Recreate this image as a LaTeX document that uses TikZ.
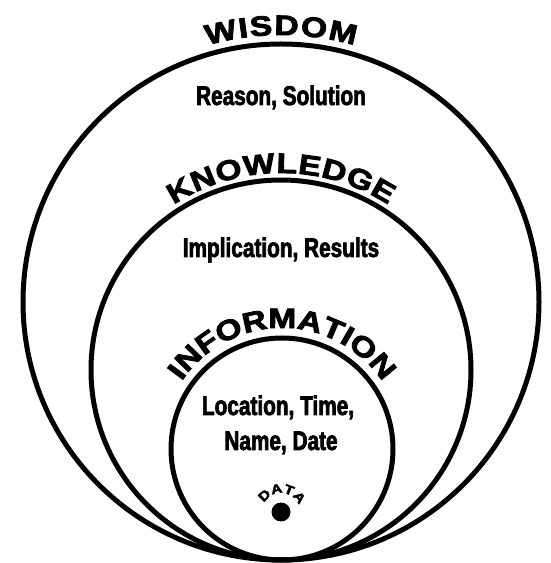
\documentclass[tikz,border=0pt]{standalone}
\usepackage{fontspec}
\usetikzlibrary{decorations.text}
\newfontfamily\ringfamily{Liberation Sans}[FakeStretch=1.2, FakeBold=3]
\newfontfamily\bodyfamily{Liberation Sans}[FakeStretch=0.77, FakeBold=2.5]
\newcommand\ringfont{\ringfamily\bfseries\fontsize{28}{28}\selectfont}
\newcommand\datafont{\ringfamily\bfseries\fontsize{13}{13}\selectfont}
\begin{document}
\begin{tikzpicture}[x=1pt, y=1pt, line width=5pt, line cap=round,
    ring/.style={draw=black},
    ringlabel/.style={decorate, decoration={text along path, text align={fit to path}, text={|\ringfont|#1}}},
    datalabel/.style={decorate, decoration={text along path, text align={fit to path}, text={|\datafont|#1}}},
    body/.style={font=\bodyfamily\bfseries\fontsize{27}{27}\selectfont, inner sep=0pt, anchor=base}]
  \useasboundingbox (0,0) rectangle (550,563);
  \coordinate (wisdom) at (281,261);
  \coordinate (knowledge) at (281,193);
  \coordinate (information) at (282,114);
  \coordinate (data) at (281,51);
  \draw[ring] (wisdom) circle (258);
  \draw[ring] (knowledge) circle (190);
  \draw[ring] (information) circle (111);
  \fill (data) circle (9.5);
  \path[ringlabel=WISDOM] (wisdom) ++(106:267) arc[start angle=106, end angle=74, radius=267];
  \path[ringlabel=KNOWLEDGE] (knowledge) ++(123:197) arc[start angle=123, end angle=57, radius=197];
  \path[ringlabel=INFORMATION] (information) ++(146:121) arc[start angle=146, end angle=34, radius=121];
  \path[datalabel=DATA] (data) ++(152:19) arc[start angle=152, end angle=22, radius=19];
  \node[body] (reason) at (281,458) {Reason, Solution};
  \node[body] (implication) at (281,306) {Implication, Results};
  \node[body] (location) at (278,148) {Location, Time,};
  \node[body] (name) at (281,113) {Name, Date};
\end{tikzpicture}
\end{document}
